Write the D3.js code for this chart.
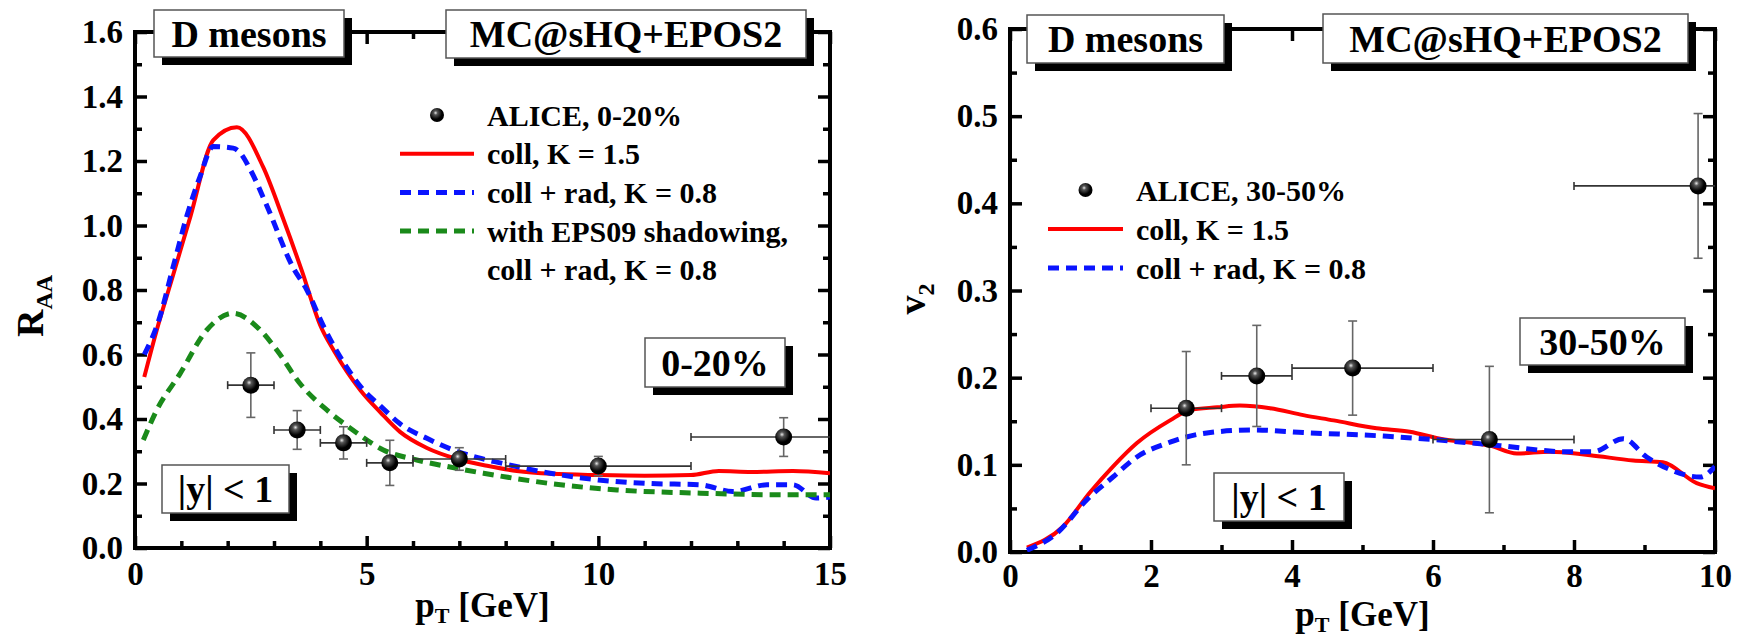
<!DOCTYPE html>
<html>
<head>
<meta charset="utf-8">
<script src="https://cdn.jsdelivr.net/npm/d3@7"></script>
<style>
  body { margin: 0; background: #fff; }
  text { font-family: "Liberation Serif", "Times New Roman", serif; font-weight: bold; fill: #000; }
</style>
</head>
<body>
<svg width="1745" height="640"></svg>
<script>
// ---- left panel: R_AA, 0-20% ----
const raaExpX   = [2.5, 3.5, 4.5, 5.5, 7, 10, 14];
const raaExpY   = [0.505, 0.366, 0.326, 0.264, 0.276, 0.254, 0.344];
const raaExpXlo = [2, 3, 4, 5, 6, 8, 12];
const raaExpXhi = [3, 4, 5, 6, 8, 12, 16];
const raaExpErr = [0.10, 0.06, 0.05, 0.07, 0.035, 0.03, 0.06];

const raaCollX = [0.2, 0.47, 0.82, 1.2, 1.69, 2.2, 2.77, 3.2, 3.6, 4.0, 4.3, 4.86, 5.3, 5.72, 6.3, 6.95, 7.6, 8.24, 9, 10, 11, 12, 12.6, 13.3, 14.2, 15];
const raaCollY = [0.53, 0.676, 0.845, 1.03, 1.265, 1.305, 1.18, 1.02, 0.86, 0.69, 0.61, 0.49, 0.42, 0.36, 0.31, 0.276, 0.255, 0.239, 0.23, 0.226, 0.224, 0.226, 0.239, 0.236, 0.239, 0.232];

const raaRadX = [0.2, 0.5, 0.82, 1.12, 1.4, 1.69, 2.12, 2.27, 2.5, 2.85, 3.41, 3.71, 4.06, 4.57, 4.93, 5.3, 5.72, 6.3, 6.87, 7.4, 7.88, 8.96, 10, 11.1, 12.2, 12.9, 13.64, 14.2, 14.7, 15];
const raaRadY = [0.6, 0.7, 0.87, 1.03, 1.15, 1.245, 1.24, 1.225, 1.17, 1.06, 0.87, 0.8, 0.69, 0.56, 0.49, 0.44, 0.385, 0.34, 0.304, 0.28, 0.264, 0.232, 0.211, 0.2, 0.196, 0.175, 0.196, 0.196, 0.155, 0.158];

const raaShadX = [0.18, 0.47, 0.97, 1.55, 2.12, 2.63, 3.06, 3.56, 4.14, 4.7, 5.36, 6.08, 6.8, 7.52, 8.96, 10.4, 12.2, 14, 15];
const raaShadY = [0.335, 0.428, 0.54, 0.676, 0.728, 0.686, 0.614, 0.51, 0.428, 0.366, 0.304, 0.273, 0.251, 0.232, 0.2, 0.18, 0.17, 0.165, 0.165];

const raaLegend = ["ALICE, 0-20%", "coll, K = 1.5", "coll + rad, K = 0.8", "with EPS09 shadowing,", "coll + rad, K = 0.8"];

// ---- right panel: v2, 30-50% ----
const v2ExpX   = [2.5, 3.5, 4.86, 6.8, 9.76];
const v2ExpY   = [0.165, 0.202, 0.211, 0.129, 0.42];
const v2ExpXlo = [2, 3, 4, 6, 8];
const v2ExpXhi = [3, 4, 6, 8, 12];
const v2ExpErr = [0.065, 0.058, 0.054, 0.084, 0.083];

const v2CollX = [0.24, 0.75, 1.13, 1.46, 1.8, 2.27, 2.55, 2.94, 3.26, 3.69, 4.16, 4.59, 5.2, 5.67, 6.1, 6.81, 7.19, 7.66, 8.23, 8.84, 9.26, 9.74, 10];
const v2CollY = [0.005, 0.029, 0.068, 0.098, 0.125, 0.151, 0.163, 0.166, 0.168, 0.165, 0.157, 0.151, 0.142, 0.138, 0.13, 0.122, 0.113, 0.115, 0.111, 0.105, 0.103, 0.079, 0.073];

const v2RadX = [0.24, 0.67, 1.09, 1.46, 1.8, 2.27, 2.74, 3.45, 4.16, 5.3, 6.0, 6.95, 7.9, 8.27, 8.7, 9.03, 9.32, 9.79, 10];
const v2RadY = [0.002, 0.022, 0.06, 0.086, 0.109, 0.126, 0.136, 0.14, 0.137, 0.133, 0.129, 0.122, 0.115, 0.115, 0.13, 0.109, 0.096, 0.086, 0.098];

const v2Legend = ["ALICE, 30-50%", "coll, K = 1.5", "coll + rad, K = 0.8"];

const svg = d3.select('svg');

const defs = svg.append('defs');
const grad = defs.append('radialGradient').attr('id', 'ball')
    .attr('cx', '40%').attr('cy', '35%').attr('r', '65%');
grad.append('stop').attr('offset', '0%').attr('stop-color', '#e8e8e8');
grad.append('stop').attr('offset', '22%').attr('stop-color', '#555');
grad.append('stop').attr('offset', '70%').attr('stop-color', '#000');

const zip = (xs, ys) => xs.map((x, i) => [x, ys[i]]);

function box(g, x, y, w, h, label) {
  g.append('rect').attr('x', x + 8).attr('y', y + 8).attr('width', w).attr('height', h).attr('fill', '#000');
  g.append('rect').attr('x', x).attr('y', y).attr('width', w).attr('height', h)
      .attr('fill', '#fff').attr('stroke', '#555').attr('stroke-width', 1.5);
  g.append('text').attr('x', x + w / 2).attr('y', y + h / 2).attr('dy', '0.35em')
      .attr('text-anchor', 'middle').attr('font-size', 38).text(label);
}

function panel(opt) {
  const x = d3.scaleLinear().domain(opt.xDomain).range([opt.left, opt.right]);
  const y = d3.scaleLinear().domain(opt.yDomain).range([opt.bottom, opt.top]);
  const g = svg.append('g');

  const clipId = 'clip' + opt.left;
  defs.append('clipPath').attr('id', clipId).append('rect')
      .attr('x', opt.left).attr('y', opt.top)
      .attr('width', opt.right - opt.left).attr('height', opt.bottom - opt.top);

  // axes: major and minor ticks on all four sides, pointing inward
  const addAxis = (axis, tr, size, labels, pad) => {
    const a = g.append('g').attr('transform', tr)
        .call(axis.tickSizeInner(-size).tickSizeOuter(0).tickPadding(pad));
    a.select('.domain').remove();
    a.selectAll('.tick line').attr('stroke-width', 3.5);
    a.selectAll('text').attr('font-size', 33).attr('font-family', null);
    if (!labels) a.selectAll('text').remove();
    return a;
  };
  const bx = `translate(0,${opt.bottom})`, tx = `translate(0,${opt.top})`;
  const ly = `translate(${opt.left},0)`, ry = `translate(${opt.right},0)`;
  addAxis(d3.axisBottom(x).tickValues(opt.xMajor).tickFormat(d3.format('d')), bx, 12, true, opt.xPad);
  addAxis(d3.axisBottom(x).tickValues(opt.xMinor), bx, 7, false, 0);
  addAxis(d3.axisTop(x).tickValues(opt.xMajor), tx, 12, false, 0);
  addAxis(d3.axisTop(x).tickValues(opt.xMinor), tx, 7, false, 0);
  addAxis(d3.axisLeft(y).tickValues(opt.yMajor).tickFormat(d3.format('.1f')), ly, 12, true, 12);
  addAxis(d3.axisLeft(y).tickValues(opt.yMinor), ly, 7, false, 0);
  addAxis(d3.axisRight(y).tickValues(opt.yMajor), ry, 12, false, 0);
  addAxis(d3.axisRight(y).tickValues(opt.yMinor), ry, 7, false, 0);

  g.append('rect').attr('x', opt.left).attr('y', opt.top)
      .attr('width', opt.right - opt.left).attr('height', opt.bottom - opt.top)
      .attr('fill', 'none').attr('stroke', '#000').attr('stroke-width', 4);

  const plot = g.append('g').attr('clip-path', `url(#${clipId})`);
  const line = d3.line().x(d => x(d[0])).y(d => y(d[1])).curve(d3.curveMonotoneX);

  opt.curves.forEach(c => {
    plot.append('path').datum(zip(c.x, c.y)).attr('d', line)
        .attr('fill', 'none').attr('stroke', c.color).attr('stroke-width', c.dash ? 5 : 4)
        .attr('stroke-dasharray', c.dash ? '11,7' : null);
  });

  // experimental points
  const e = opt.exp;
  e.x.forEach((px, i) => {
    const cy = y(e.y[i]);
    plot.append('line').attr('x1', x(e.xlo[i])).attr('x2', x(e.xhi[i])).attr('y1', cy).attr('y2', cy)
        .attr('stroke', '#333').attr('stroke-width', 1.6);
    [e.xlo[i], e.xhi[i]].forEach(v => plot.append('line')
        .attr('x1', x(v)).attr('x2', x(v)).attr('y1', cy - 4).attr('y2', cy + 4)
        .attr('stroke', '#333').attr('stroke-width', 1.6));
    const y0 = y(e.y[i] - e.err[i]), y1 = y(e.y[i] + e.err[i]);
    plot.append('line').attr('x1', x(px)).attr('x2', x(px)).attr('y1', y0).attr('y2', y1)
        .attr('stroke', '#666').attr('stroke-width', 1.6);
    [y0, y1].forEach(v => plot.append('line')
        .attr('x1', x(px) - 4.5).attr('x2', x(px) + 4.5).attr('y1', v).attr('y2', v)
        .attr('stroke', '#666').attr('stroke-width', 1.6));
    plot.append('circle').attr('cx', x(px)).attr('cy', cy).attr('r', 8.5).attr('fill', 'url(#ball)');
  });

  // legend
  const L = opt.legend;
  L.labels.forEach((t, i) => {
    const ly = L.y + i * L.dy;
    g.append('text').attr('x', L.textX).attr('y', ly).attr('dy', '0.35em')
        .attr('font-size', 30).text(t);
  });
  g.append('circle').attr('cx', (L.x0 + L.x1) / 2).attr('cy', L.y).attr('r', 7).attr('fill', 'url(#ball)');
  opt.curves.forEach((c, i) => {
    const ly = L.y + (i + 1) * L.dy;
    g.append('line').attr('x1', L.x0).attr('x2', L.x1).attr('y1', ly).attr('y2', ly)
        .attr('stroke', c.color).attr('stroke-width', c.dash ? 5 : 4)
        .attr('stroke-dasharray', c.dash ? '11,7' : null);
  });

  opt.boxes.forEach(b => box(g, b[0], b[1], b[2], b[3], b[4]));

  // axis titles
  const xt = g.append('text').attr('x', (opt.left + opt.right) / 2).attr('y', opt.xTitleY)
      .attr('text-anchor', 'middle').attr('font-size', 35);
  xt.append('tspan').text('p');
  xt.append('tspan').attr('font-size', 22).attr('dy', 6).text('T');
  xt.append('tspan').attr('dy', -6).text(' [GeV]');

  const yt = g.append('text')
      .attr('transform', `translate(${opt.yTitleX},${opt.yTitleY}) rotate(-90)`)
      .attr('text-anchor', 'middle').attr('font-size', 38);
  yt.append('tspan').text(opt.yTitle[0]);
  yt.append('tspan').attr('font-size', 24).attr('dy', 9).text(opt.yTitle[1]);
}

panel({
  left: 135, right: 830, top: 32, bottom: 548,
  xDomain: [0, 15], yDomain: [0, 1.6],
  xMajor: [0, 5, 10, 15], xMinor: d3.range(1, 15).filter(v => v % 5),
  yMajor: d3.range(0, 1.61, 0.2), yMinor: d3.range(0.1, 1.6, 0.2),
  xPad: 14,
  curves: [
    { x: raaCollX, y: raaCollY, color: '#ff0000', dash: false },
    { x: raaRadX, y: raaRadY, color: '#0a14ff', dash: true },
    { x: raaShadX, y: raaShadY, color: '#1a8a1a', dash: true }
  ],
  exp: { x: raaExpX, y: raaExpY, xlo: raaExpXlo, xhi: raaExpXhi, err: raaExpErr },
  legend: { labels: raaLegend, y: 115, dy: 38.7, x0: 400, x1: 474, textX: 487 },
  boxes: [
    [154, 10, 190, 47, 'D mesons'],
    [446, 10, 360, 48, 'MC@sHQ+EPOS2'],
    [645, 338, 140, 49, '0-20%'],
    [162, 465, 127, 48, '|y| < 1']
  ],
  xTitleY: 617, yTitleX: 43, yTitleY: 306, yTitle: ['R', 'AA']
});

panel({
  left: 1010, right: 1715, top: 29, bottom: 552,
  xDomain: [0, 10], yDomain: [0, 0.6],
  xMajor: [0, 2, 4, 6, 8, 10], xMinor: [1, 3, 5, 7, 9],
  yMajor: d3.range(0, 0.61, 0.1), yMinor: d3.range(0.05, 0.6, 0.1),
  xPad: 12,
  curves: [
    { x: v2CollX, y: v2CollY, color: '#ff0000', dash: false },
    { x: v2RadX, y: v2RadY, color: '#0a14ff', dash: true }
  ],
  exp: { x: v2ExpX, y: v2ExpY, xlo: v2ExpXlo, xhi: v2ExpXhi, err: v2ExpErr },
  legend: { labels: v2Legend, y: 190, dy: 39, x0: 1048, x1: 1123, textX: 1136 },
  boxes: [
    [1027, 15, 197, 48, 'D mesons'],
    [1323, 14, 365, 49, 'MC@sHQ+EPOS2'],
    [1520, 318, 165, 47, '30-50%'],
    [1214, 473, 130, 48, '|y| < 1']
  ],
  xTitleY: 626, yTitleX: 925, yTitleY: 299, yTitle: ['v', '2']
});
</script>
</body>
</html>
